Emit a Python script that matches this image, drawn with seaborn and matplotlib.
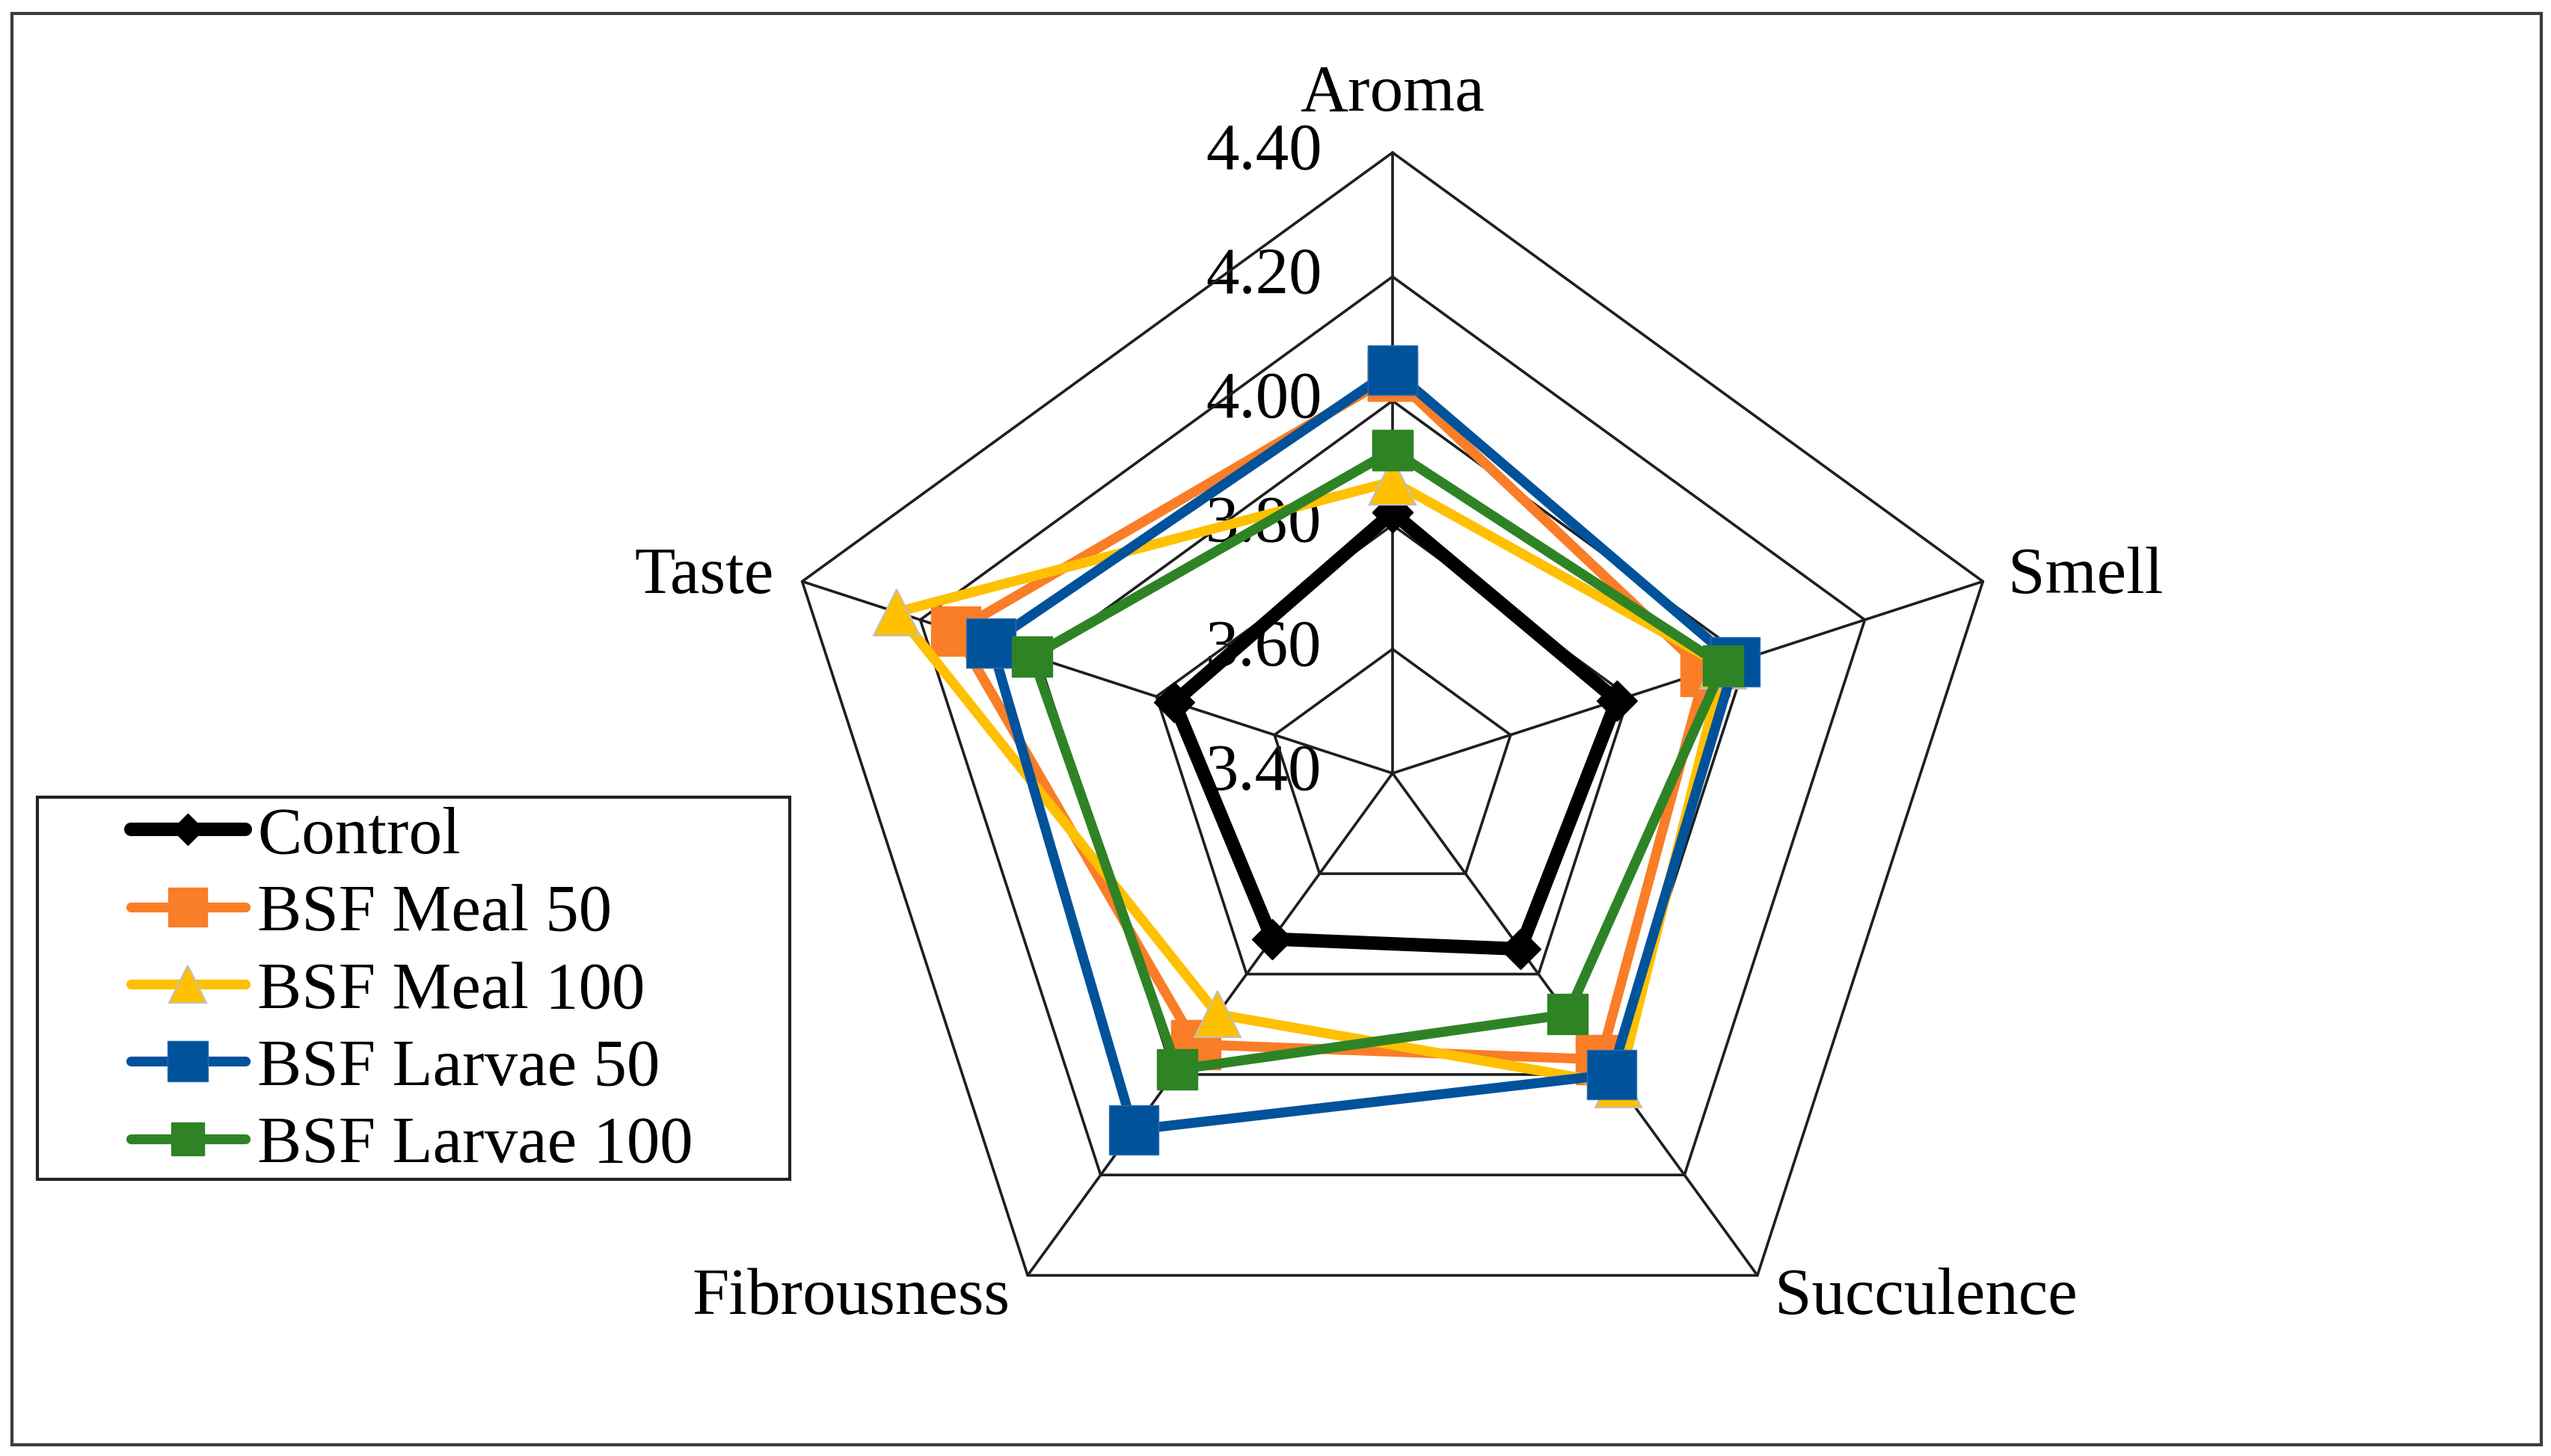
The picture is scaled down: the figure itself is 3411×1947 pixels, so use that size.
import numpy as np
import pandas as pd
import matplotlib.pyplot as plt
import seaborn as sns
from matplotlib.patches import Rectangle

# sensory scores per attribute (clockwise from the top)
attributes = ['Aroma', 'Smell', 'Succulence', 'Fibrousness', 'Taste']
control = [3.82, 3.78, 3.75, 3.73, 3.77]
bsf_meal_50 = [4.04, 3.93, 3.97, 3.94, 4.14]
bsf_meal_100 = [3.87, 3.96, 4.02, 3.88, 4.24]
bsf_larvae_50 = [4.05, 3.98, 4.00, 4.11, 4.08]
bsf_larvae_100 = [3.92, 3.96, 3.88, 3.99, 4.01]
series_names = ['Control', 'BSF Meal 50', 'BSF Meal 100', 'BSF Larvae 50', 'BSF Larvae 100']
ring_ticks = [3.40, 3.60, 3.80, 4.00, 4.20, 4.40]

# look of each series
styles = {
    'Control': dict(color='#000000', marker='D', markersize=27, linewidth=13, mec='#000000', mew=1),
    'BSF Meal 50': dict(color='#FA7D28', marker='s', markersize=47, linewidth=9.5, mec='#FA7D28', mew=1),
    'BSF Meal 100': dict(color='#FFC000', marker='^', markersize=45, linewidth=9.5, mec='#BFBFBF', mew=1.5),
    'BSF Larvae 50': dict(color='#00529B', marker='s', markersize=48, linewidth=9.5, mec='#2E6DB0', mew=1),
    'BSF Larvae 100': dict(color='#2E8325', marker='s', markersize=39, linewidth=9.5, mec='#2E8325', mew=1),
}

sns.set_theme(style='white')
plt.rcParams['font.family'] = ['Liberation Serif', 'DejaVu Serif']
plt.rcParams['text.color'] = 'black'
FS = 64

fig = plt.figure(figsize=(34.12, 19.47), dpi=100)

# polar axes placed so the centre and radius match the reference
cx, cy = 1862 / 3412, 1 - 1034 / 1947
w, h = 830 / 3412, 830 / 1947
ax = fig.add_axes([cx - w, cy - h, 2 * w, 2 * h], projection='polar')
ax.set_theta_offset(np.pi / 2)
ax.set_theta_direction(-1)
ax.patch.set_alpha(0)
ax.spines['polar'].set_visible(False)
ax.grid(False)

n = len(attributes)
theta = np.linspace(0, 2 * np.pi, n, endpoint=False)
theta_closed = np.append(theta, theta[0] + 2 * np.pi)

# pentagon grid and spokes
for r in ring_ticks[1:]:
    ax.plot(theta_closed, [r] * (n + 1), color='#1f1f1f', lw=2.6, zorder=1.5, clip_on=False)
for t in theta:
    ax.plot([t, t], [ring_ticks[0], ring_ticks[-1]], color='#1f1f1f', lw=2.6, zorder=1.5, clip_on=False)

# series
values = [control, bsf_meal_50, bsf_meal_100, bsf_larvae_50, bsf_larvae_100]
for i, (name, vals) in enumerate(zip(series_names, values)):
    df = pd.DataFrame({'theta': theta_closed, 'score': vals + vals[:1]})
    st = styles[name]
    sns.lineplot(data=df, x='theta', y='score', ax=ax, sort=False, estimator=None,
                 color=st['color'], marker=st['marker'], markersize=st['markersize'],
                 linewidth=st['linewidth'], markeredgecolor=st['mec'], markeredgewidth=st['mew'],
                 solid_joinstyle='round', solid_capstyle='round',
                 label=name, zorder=3 + i, clip_on=False)

ax.set_ylim(ring_ticks[0], ring_ticks[-1])
ax.set_xticks([])
ax.set_yticks([])
ax.set_xlabel('')
ax.set_ylabel('')

# radial tick labels left of the Aroma spoke
for r in ring_ticks:
    ax.annotate(f'{r:.2f}', xy=(0, r), xytext=(-68, 0), textcoords='offset points',
                ha='right', va='center', fontsize=FS, color='black', zorder=1,
                annotation_clip=False)

# category labels around the outer pentagon
label_pos = {
    'Aroma': ((0, 40), 'center'),
    'Smell': ((24, -11), 'left'),
    'Succulence': ((17, -37), 'left'),
    'Fibrousness': ((-17, -37), 'right'),
    'Taste': ((-27, -11), 'right'),
}
for t, name in zip(theta, attributes):
    off, ha = label_pos[name]
    ax.annotate(name, xy=(t, ring_ticks[-1]), xytext=off, textcoords='offset points',
                ha=ha, va='baseline', fontsize=FS, color='black', annotation_clip=False)

# legend
handles, labels = ax.get_legend_handles_labels()
ax.get_legend().remove()
fig.legend(handles, labels, loc='upper left', bbox_to_anchor=(175 / 3412, 1 - 1078 / 1947),
           frameon=False, fontsize=FS, borderpad=0, borderaxespad=0, labelspacing=0.25,
           handlelength=1.72, handletextpad=0.18, markerscale=0.8, labelcolor='black')
fig.patches.append(Rectangle((50 / 3412, 1 - 1577 / 1947), 1006 / 3412, 511 / 1947,
                             transform=fig.transFigure, fill=False, edgecolor='#222222', lw=3))

# outer frame of the figure
fig.patches.append(Rectangle((16 / 3412, 1 - 1932 / 1947), 3382 / 3412, 1914 / 1947,
                             transform=fig.transFigure, fill=False, edgecolor='#3c3c3c', lw=3))

fig.savefig('out.png', dpi=100, facecolor='white')
